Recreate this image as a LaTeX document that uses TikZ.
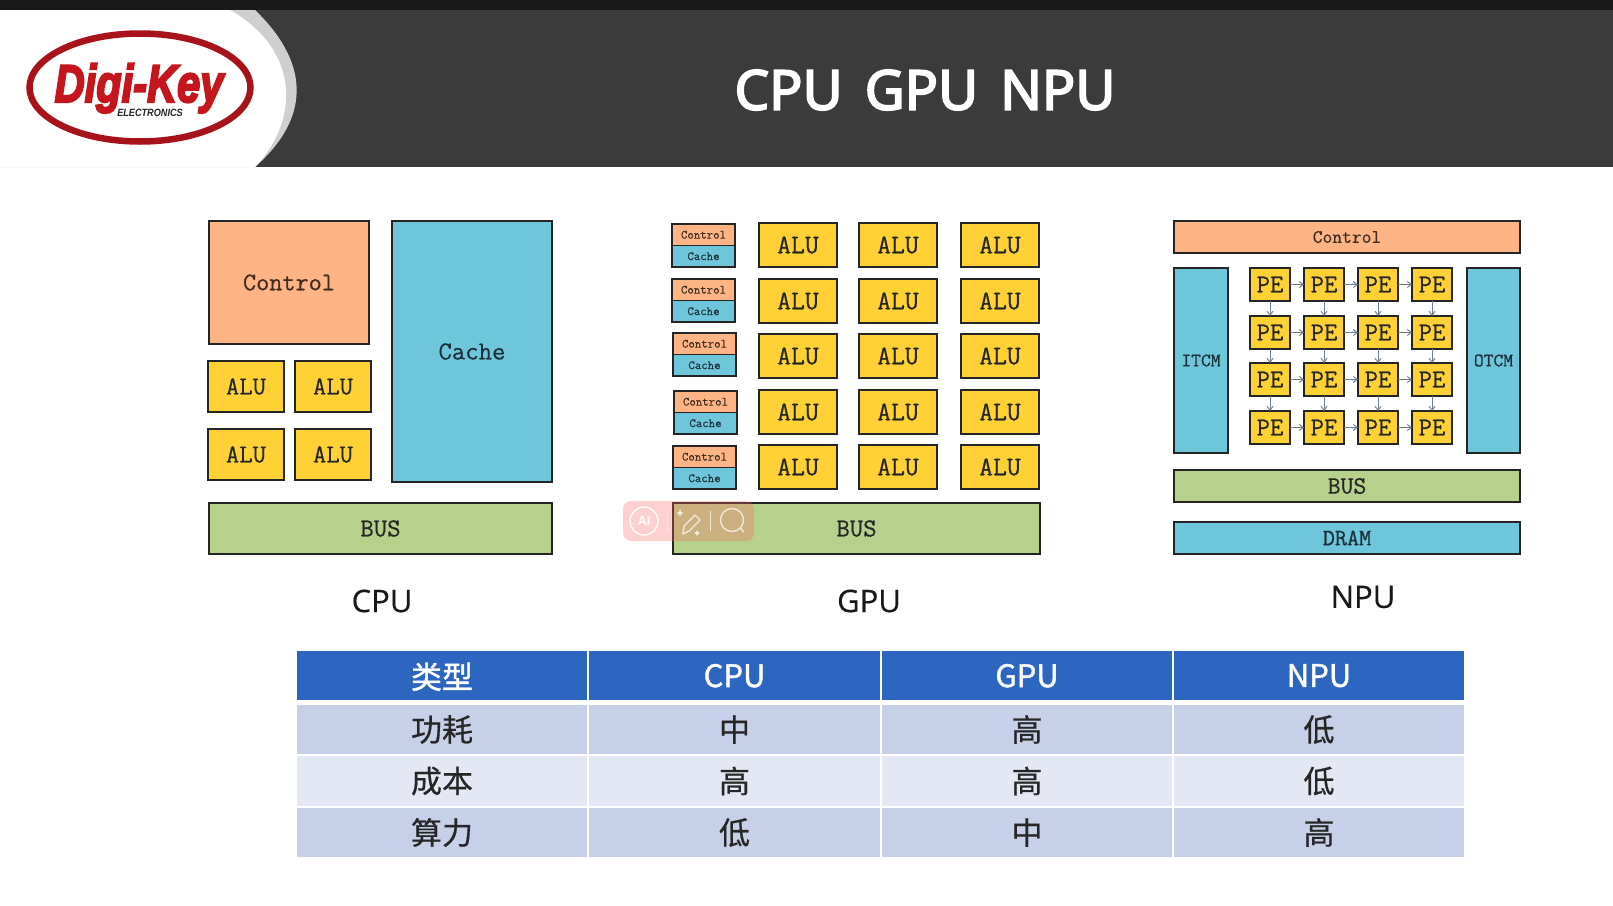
\documentclass[tikz,border=0pt]{standalone}
\usepackage{fontspec}
\usetikzlibrary{arrows.meta,shapes.geometric}
\setmainfont{Liberation Serif}
\setsansfont[FakeBold=0.4]{Open Sans}
\setmonofont[FakeBold=0.5]{Latin Modern Mono}
\newfontfamily\cjk[FakeBold=0.5]{Noto Sans CJK SC}
\newfontfamily\hcjk[FakeBold=1.4]{Noto Sans CJK SC}
\newfontfamily\hdr[FakeBold=3.2]{Noto Sans}
\newfontfamily\logofont{Liberation Sans}
\newfontfamily\logosmall{Liberation Sans}
\definecolor{orangec}{HTML}{FFB485}
\definecolor{bluec}{HTML}{6EC6DA}
\definecolor{yellowc}{HTML}{FFD135}
\definecolor{greenc}{HTML}{B5D18C}
\definecolor{linec}{HTML}{252525}
\definecolor{headblue}{HTML}{2C66C0}
\definecolor{rowa}{HTML}{C6D0E9}
\definecolor{rowb}{HTML}{E4E8F4}
\definecolor{bandc}{HTML}{3B3B3B}
\definecolor{logored}{HTML}{C4161C}
\definecolor{swoosh}{HTML}{CFCFCF}
\definecolor{arrowc}{HTML}{6E7C90}
\tikzset{
 x=1pt,y=-1pt,
 blk/.style={draw=linec,line width=1.3pt,anchor=north west,inner sep=0pt,outer sep=0pt,font=\ttfamily,text=black!85},
 ctlbox/.style={blk,fill=orangec,text=black!75!orangec},
 cachebox/.style={blk,fill=bluec,text=black!75!bluec},
 alubox/.style={blk,fill=yellowc},
 busbox/.style={blk,fill=greenc},
 pebox/.style={alubox},
 cell/.style={anchor=north west,inner sep=0pt,outer sep=0pt,font=\cjk\fontsize{31}{31}\selectfont,text=black!85},
 hcell/.style={cell,fill=headblue,text=white,font=\hcjk\fontsize{31}{31}\selectfont},
 caption/.style={font=\sffamily\fontsize{31}{31}\selectfont,text=black!90},
 flow/.style={draw=arrowc,line width=0.9pt,-{Straight Barb[length=4pt,width=6pt]}},
 sparkle/.style={fill=white,opacity=.8},
}
\newcommand{\bxt}[8]{\node[#1,minimum width=#4pt-#2pt,minimum height=#5pt-#3pt,#6] (#7) at (#2,#3) {#8};}
\begin{document}
\begin{tikzpicture}
\useasboundingbox (0,0) rectangle (1613,905);
\fill[white] (0,0) rectangle (1613,905);
% header
\fill[bandc] (0,10) rectangle (1613,167);
\fill[black!90] (0,0) rectangle (1613,10);
\fill[swoosh] (0,10) -- (255,10) .. controls (307,60) and (314,115) .. (255,167) -- (0,167) -- cycle;
\fill[white] (0,10) -- (230,10) .. controls (300,50) and (300,120) .. (255,167) -- (0,167) -- cycle;
% logo
\node[ellipse,draw=logored!85!black,line width=6.5pt,fill=white,minimum width=221pt,minimum height=108pt,inner sep=0pt] (logoring) at (140,87.5) {};
\node[anchor=base,inner sep=0pt,text=logored,font=\logofont\bfseries\itshape\fontsize{52}{52}\selectfont,xscale=0.8,yscale=1.02] (logotext) at (139,102) {\special{pdf:code 2 Tr 2.2 w 0.77 0.09 0.11 RG}Digi-Key\special{pdf:code 0 Tr 0 w 0 G}};
\node[text=black!85,font=\logosmall\bfseries\itshape\fontsize{10.5}{11}\selectfont,xscale=0.87] (logosub) at (150,113) {ELECTRONICS};
% title
\node[text=white,font=\hdr\fontsize{55}{55}\selectfont] (title) at (925,90) {CPU\hspace{0.14em} GPU\hspace{0.14em} NPU};
% CPU
\bxt{ctlbox,font=\ttfamily\fontsize{25.5}{25}\selectfont}{209}{221}{369}{344}{}{cctl}{Control}
\bxt{cachebox,font=\ttfamily\fontsize{26}{26}\selectfont}{392}{221}{552}{482}{}{ccache}{Cache}
\foreach \n/\xa/\ya in {a/208/361,b/295/361,c/208/429,d/295/429}{
 \node[alubox,font=\ttfamily\fontsize{26}{26}\selectfont,minimum width=76pt,minimum height=51pt] (calu\n) at (\xa,\ya) {ALU};
}
\bxt{busbox,font=\ttfamily\fontsize{26}{26}\selectfont}{209}{503}{552}{554}{}{cbus}{BUS}
\node[caption] (ccap) at (382,601) {CPU};
% GPU
\foreach \i/\xa/\ya in {1/672/224,2/672/279,3/673/333,4/674/391,5/673/446}{
 \node[ctlbox,font=\ttfamily\fontsize{12.5}{13}\selectfont,minimum width=63pt,minimum height=21.5pt] (gctl\i) at (\xa,\ya) {Control};
 \node[cachebox,font=\ttfamily\fontsize{12.5}{13}\selectfont,minimum width=63pt,minimum height=21.5pt] (gcache\i) at (\xa,\ya+21.5) {Cache};
}
\foreach \c/\xa in {1/759,2/859,3/961}{
 \foreach \r/\ya in {1/223,2/279,3/334,4/390,5/445}{
  \node[alubox,font=\ttfamily\fontsize{27}{27}\selectfont,minimum width=78pt,minimum height=44pt] (galu\c\r) at (\xa,\ya) {ALU};
 }
}
\bxt{busbox,font=\ttfamily\fontsize{26}{26}\selectfont}{673}{503}{1040}{554}{}{gbus}{BUS}
\node[caption] (gcap) at (869,601) {GPU};
% NPU
\bxt{ctlbox,font=\ttfamily\fontsize{19}{19}\selectfont}{1174}{221}{1520}{253}{}{nctl}{Control}
\bxt{cachebox,font=\ttfamily\fontsize{19}{19}\selectfont}{1174}{268}{1228}{453}{}{itcm}{ITCM}
\bxt{cachebox,font=\ttfamily\fontsize{19}{19}\selectfont}{1467}{268}{1520}{453}{}{otcm}{OTCM}
\foreach \c/\xa in {1/1250,2/1304,3/1358,4/1412}{
 \foreach \r/\ya in {1/268,2/316,3/363,4/411}{
  \node[pebox,font=\ttfamily\fontsize{26}{26}\selectfont,minimum width=40pt,minimum height=33pt] (pe\c\r) at (\xa,\ya) {PE};
 }
}
\foreach \r in {1,2,3,4}{
 \draw[flow] (pe1\r) -- (pe2\r);
 \draw[flow] (pe2\r) -- (pe3\r);
 \draw[flow] (pe3\r) -- (pe4\r);
}
\foreach \c in {1,2,3,4}{
 \draw[flow] (pe\c1) -- (pe\c2);
 \draw[flow] (pe\c2) -- (pe\c3);
 \draw[flow] (pe\c3) -- (pe\c4);
}
\bxt{busbox,font=\ttfamily\fontsize{25}{25}\selectfont}{1174}{470}{1520}{502}{}{nbus}{BUS}
\bxt{cachebox,font=\ttfamily\fontsize{23.5}{24}\selectfont}{1174}{522}{1520}{554}{}{dram}{DRAM}
\node[caption] (ncap) at (1363,597) {NPU};
% watermark
\fill[red!60!white,opacity=0.3,rounded corners=8pt] (623,501) rectangle (754,541);
\node[circle,draw=white,line width=1.4pt,minimum size=28pt,inner sep=0pt,text=white,font=\logosmall\bfseries\fontsize{13}{13}\selectfont] (wmai) at (644,521) {AI};
\draw[white,opacity=.7,line width=1pt] (667,511) -- (667,531);
\draw[white,opacity=.7,line width=1pt] (710,511) -- (710,531);
\draw[white,opacity=.7,line width=1.4pt,line join=round] (683,534) -- (684,526) -- (695,515) -- (700,520) -- (689,531) -- cycle;
\fill[sparkle] (680,509) -- (681,512) -- (684,513) -- (681,514) -- (680,517) -- (679,514) -- (676,513) -- (679,512) -- cycle;
\fill[sparkle] (697,530) -- (698,532) -- (700,533) -- (698,534) -- (697,536) -- (696,534) -- (694,533) -- (696,532) -- cycle;
\node[circle,draw=white,opacity=.7,line width=1.5pt,minimum size=23pt,inner sep=0pt] (wmlens) at (732,520) {};
\draw[white,opacity=.7,line width=1.5pt] (wmlens.south east) -- (744,532);
% table
\foreach \n/\xa/\xb/\t in {a/297/587/类型,b/589/880/CPU,c/882/1172/GPU,d/1174/1464/NPU}{
 \pgfmathsetmacro\w{\xb-\xa}
 \node[hcell,minimum width=\w pt,minimum height=49pt,text depth=-4pt] (h\n) at (\xa,651) {\t};
}
\foreach \r/\ya/\hh/\fc/\ta/\tb/\tc/\td/\sh in {1/705/49/rowa/功耗/中/高/低/0,2/756/50/rowb/成本/高/高/低/-2,3/808/49/rowa/算力/低/中/高/-2}{
 \node[cell,fill=\fc,minimum width=290pt,minimum height=\hh pt] (ra\r) at (297,\ya) {\raisebox{\sh pt}{\ta}};
 \node[cell,fill=\fc,minimum width=291pt,minimum height=\hh pt] (rb\r) at (589,\ya) {\raisebox{\sh pt}{\tb}};
 \node[cell,fill=\fc,minimum width=290pt,minimum height=\hh pt] (rc\r) at (882,\ya) {\raisebox{\sh pt}{\tc}};
 \node[cell,fill=\fc,minimum width=290pt,minimum height=\hh pt] (rd\r) at (1174,\ya) {\raisebox{\sh pt}{\td}};
}
\end{tikzpicture}
\end{document}
